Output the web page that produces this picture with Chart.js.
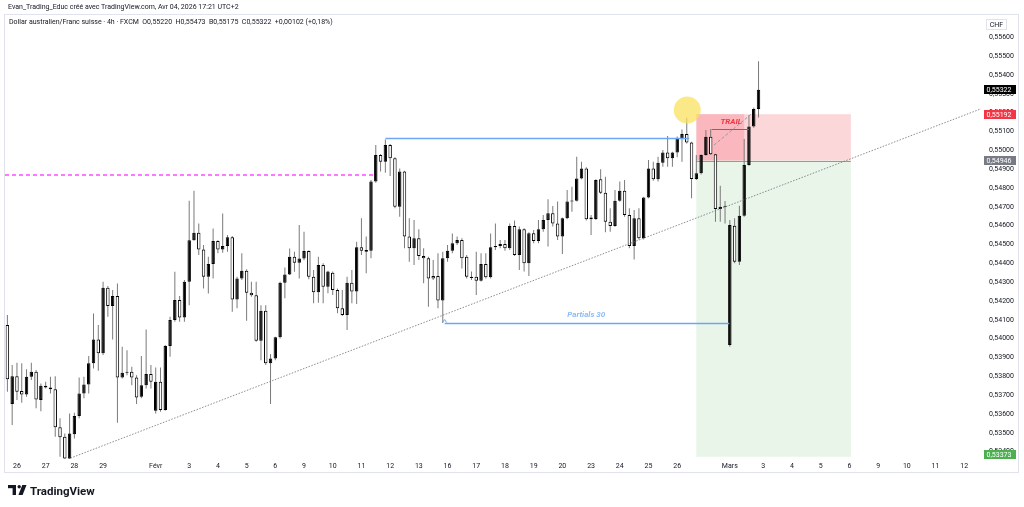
<!DOCTYPE html>
<html>
<head>
<meta charset="utf-8">
<script src="https://cdn.jsdelivr.net/npm/chart.js@4.4.1/dist/chart.umd.min.js"></script>
<style>
  html, body { margin: 0; padding: 0; background: #fff; }
  canvas { display: block; }
</style>
</head>
<body>
<canvas id="chart" width="1024" height="507"></canvas>
<script>
// AUD/CHF 4h candles
const opens = [
  0.54072, 0.53653, 0.53801, 0.53722, 0.53704, 0.53798, 0.53824, 0.53674, 0.53750, 0.53741,
  0.53732, 0.53529, 0.53479, 0.53364, 0.53493, 0.53589, 0.53709, 0.53757, 0.53869, 0.53996,
  0.53922, 0.54270, 0.54173, 0.54226, 0.53794, 0.53819, 0.53824, 0.53794, 0.53692, 0.53753,
  0.53812, 0.53617, 0.53771, 0.53621, 0.53961, 0.54099, 0.54205, 0.54113, 0.54302, 0.54523,
  0.54562, 0.54474, 0.54329, 0.54396, 0.54518, 0.54474, 0.54492, 0.54538, 0.54208, 0.54320,
  0.54361, 0.54244, 0.54231, 0.53989, 0.54148, 0.53869, 0.53895, 0.54007, 0.54297, 0.54341,
  0.54435, 0.54403, 0.54426, 0.54465, 0.54329, 0.54246, 0.54391, 0.54276, 0.54350, 0.54258,
  0.54161, 0.54126, 0.54297, 0.54250, 0.54485, 0.54471, 0.54467, 0.54834, 0.54975, 0.54940,
  0.55028, 0.54958, 0.54701, 0.54887, 0.54542, 0.54480, 0.54533, 0.54439, 0.54427, 0.54333,
  0.54333, 0.54202, 0.54427, 0.54467, 0.54506, 0.54524, 0.54435, 0.54329, 0.54329, 0.54308,
  0.54396, 0.54326, 0.54485, 0.54492, 0.54503, 0.54480, 0.54598, 0.54444, 0.54581, 0.54400,
  0.54560, 0.54519, 0.54581, 0.54630, 0.54666, 0.54612, 0.54542, 0.54639, 0.54728, 0.54733,
  0.54851, 0.54904, 0.54644, 0.54636, 0.54846, 0.54775, 0.54621, 0.54598, 0.54733, 0.54786,
  0.54657, 0.54492, 0.54639, 0.54533, 0.54750, 0.54904, 0.54846, 0.54934, 0.54988, 0.54958,
  0.54988, 0.55064, 0.55087, 0.55041, 0.54848, 0.54878, 0.54975, 0.55072, 0.54979, 0.54688,
  0.54701, 0.53966, 0.54600, 0.54409, 0.54653, 0.54922, 0.55126, 0.55220
];
const highs = [
  0.54125, 0.53860, 0.53872, 0.53869, 0.53837, 0.53872, 0.53833, 0.53762, 0.53771, 0.53798,
  0.53801, 0.53577, 0.53497, 0.53603, 0.53607, 0.53794, 0.53798, 0.53908, 0.54134, 0.54072,
  0.54302, 0.54279, 0.54258, 0.54293, 0.53957, 0.53939, 0.53851, 0.53806, 0.53908, 0.54049,
  0.53860, 0.53847, 0.53847, 0.53966, 0.54116, 0.54355, 0.54226, 0.54311, 0.54732, 0.54785,
  0.54612, 0.54497, 0.54435, 0.54585, 0.54523, 0.54665, 0.54550, 0.54545, 0.54329, 0.54453,
  0.54368, 0.54302, 0.54302, 0.54178, 0.54178, 0.53918, 0.54010, 0.54302, 0.54378, 0.54479,
  0.54461, 0.54603, 0.54568, 0.54470, 0.54365, 0.54435, 0.54400, 0.54361, 0.54356, 0.54267,
  0.54258, 0.54329, 0.54365, 0.54515, 0.54639, 0.54542, 0.54843, 0.55028, 0.54981, 0.55058,
  0.55034, 0.54963, 0.54904, 0.54892, 0.54639, 0.54630, 0.54581, 0.54480, 0.54435, 0.54418,
  0.54453, 0.54462, 0.54497, 0.54559, 0.54542, 0.54533, 0.54444, 0.54356, 0.54462, 0.54453,
  0.54453, 0.54559, 0.54612, 0.54524, 0.54524, 0.54612, 0.54627, 0.54595, 0.54586, 0.54565,
  0.54577, 0.54630, 0.54657, 0.54740, 0.54704, 0.54728, 0.54644, 0.54789, 0.54807, 0.54966,
  0.54940, 0.54910, 0.54657, 0.54846, 0.54899, 0.54860, 0.54692, 0.54789, 0.54834, 0.54842,
  0.54692, 0.54683, 0.54692, 0.54754, 0.54949, 0.54940, 0.54966, 0.55002, 0.55076, 0.54993,
  0.55073, 0.55111, 0.55173, 0.55046, 0.54975, 0.54979, 0.55108, 0.55113, 0.54982, 0.54812,
  0.54731, 0.54630, 0.54639, 0.54706, 0.55060, 0.55187, 0.55228, 0.55473
];
const lows = [
  0.53718, 0.53541, 0.53674, 0.53660, 0.53692, 0.53780, 0.53630, 0.53615, 0.53736, 0.53709,
  0.53479, 0.53373, 0.53355, 0.53355, 0.53470, 0.53577, 0.53683, 0.53709, 0.53842, 0.53830,
  0.53913, 0.54116, 0.53996, 0.53553, 0.53789, 0.53806, 0.53753, 0.53653, 0.53683, 0.53736,
  0.53736, 0.53603, 0.53612, 0.53617, 0.53904, 0.54090, 0.54090, 0.54090, 0.54178, 0.54520,
  0.54444, 0.54267, 0.54240, 0.54320, 0.54453, 0.54456, 0.54461, 0.54143, 0.54161, 0.54311,
  0.54095, 0.54222, 0.53984, 0.53886, 0.53860, 0.53653, 0.53886, 0.54001, 0.54214, 0.54338,
  0.54355, 0.54320, 0.54417, 0.54315, 0.54188, 0.54191, 0.54188, 0.54241, 0.54232, 0.54135,
  0.54120, 0.54046, 0.54188, 0.54184, 0.54444, 0.54347, 0.54427, 0.54828, 0.54887, 0.54881,
  0.54864, 0.54692, 0.54648, 0.54480, 0.54409, 0.54391, 0.54418, 0.54294, 0.54170, 0.54312,
  0.54161, 0.54083, 0.54409, 0.54453, 0.54497, 0.54373, 0.54320, 0.54312, 0.54232, 0.54303,
  0.54320, 0.54320, 0.54471, 0.54480, 0.54467, 0.54471, 0.54439, 0.54365, 0.54356, 0.54333,
  0.54506, 0.54506, 0.54568, 0.54489, 0.54595, 0.54524, 0.54450, 0.54634, 0.54674, 0.54728,
  0.54846, 0.54627, 0.54550, 0.54630, 0.54768, 0.54565, 0.54568, 0.54594, 0.54727, 0.54648,
  0.54480, 0.54421, 0.54527, 0.54527, 0.54745, 0.54839, 0.54834, 0.54913, 0.54913, 0.54913,
  0.54963, 0.54940, 0.55037, 0.54745, 0.54842, 0.54872, 0.54971, 0.54975, 0.54621, 0.54621,
  0.54612, 0.53957, 0.54400, 0.54391, 0.54648, 0.54918, 0.55120, 0.55175
];
const closes = [
  0.53785, 0.53801, 0.53718, 0.53704, 0.53798, 0.53824, 0.53677, 0.53750, 0.53741, 0.53732,
  0.53529, 0.53476, 0.53364, 0.53497, 0.53589, 0.53709, 0.53757, 0.53869, 0.53996, 0.53922,
  0.54270, 0.54173, 0.54226, 0.53794, 0.53819, 0.53824, 0.53794, 0.53688, 0.53753, 0.53812,
  0.53771, 0.53771, 0.53621, 0.53961, 0.54099, 0.54205, 0.54113, 0.54302, 0.54523, 0.54562,
  0.54474, 0.54329, 0.54396, 0.54518, 0.54474, 0.54492, 0.54538, 0.54208, 0.54320, 0.54361,
  0.54244, 0.54231, 0.53989, 0.54148, 0.53869, 0.53895, 0.54007, 0.54297, 0.54341, 0.54435,
  0.54403, 0.54426, 0.54465, 0.54329, 0.54246, 0.54391, 0.54276, 0.54356, 0.54258, 0.54161,
  0.54126, 0.54297, 0.54250, 0.54485, 0.54467, 0.54462, 0.54834, 0.54975, 0.54940, 0.55028,
  0.54958, 0.54701, 0.54887, 0.54542, 0.54480, 0.54533, 0.54439, 0.54427, 0.54320, 0.54320,
  0.54202, 0.54427, 0.54467, 0.54506, 0.54524, 0.54427, 0.54329, 0.54322, 0.54308, 0.54396,
  0.54326, 0.54485, 0.54492, 0.54503, 0.54480, 0.54598, 0.54444, 0.54581, 0.54400, 0.54560,
  0.54519, 0.54581, 0.54630, 0.54666, 0.54612, 0.54542, 0.54639, 0.54728, 0.54733, 0.54851,
  0.54904, 0.54634, 0.54634, 0.54843, 0.54775, 0.54621, 0.54598, 0.54733, 0.54786, 0.54657,
  0.54492, 0.54639, 0.54533, 0.54750, 0.54904, 0.54846, 0.54934, 0.54988, 0.54958, 0.54988,
  0.55064, 0.55087, 0.55041, 0.54848, 0.54878, 0.54975, 0.55072, 0.54979, 0.54688, 0.54701,
  0.54705, 0.54603, 0.54409, 0.54653, 0.54922, 0.55126, 0.55220, 0.55322
];

// time axis: bar slot of each date label
const tickIdx = [2, 8, 14, 20, 31, 38, 44, 50, 56, 62, 68, 74, 80, 86, 92, 98, 104, 110, 116,
  122, 128, 134, 140, 151, 158, 164, 170, 176, 182, 188, 194, 200];
const tickText = ['26', '27', '28', '29', 'Févr', '3', '4', '5', '6', '9', '10', '11', '12', '13',
  '16', '17', '18', '19', '20', '23', '24', '25', '26', 'Mars', '3', '4', '5', '6', '9', '10', '11', '12'];
const slotCount = 204;
const priceTicks = [0.534, 0.535, 0.536, 0.537, 0.538, 0.539, 0.540, 0.541, 0.542, 0.543, 0.544,
  0.545, 0.546, 0.547, 0.548, 0.549, 0.550, 0.551, 0.552, 0.553, 0.554, 0.555, 0.556];

// drawings on the chart (bar slot, price)
const pinkLevel = [76.8, 0.54869];
const rangeHigh = [79, 142.5, 0.55065];
const rangeLow = [91.4, 150.9, 0.54083];
const partialsLabel = [121, 0.54125, 'Partials 30'];
const trendLine = [[12.6, 0.53360], [178, 0.54972]];
const position = { from: 144, to: 176.3, lossEnd: 154, entry: 0.54946, stop: 0.55192, target: 0.53373 };
const trailLine = [147.2, 155, 0.55113];
const trailLabel = [151.3, 0.55152, 'TRAIL'];
const trailPath = [[147.7, 0.55028], [155.4, 0.55191]];
const marker = [142.1, 0.55214];

const FONT = 'Roboto, "Liberation Sans", sans-serif';
const fmt = v => v.toFixed(5).replace('.', ',');

const bodies = opens.map((o, i) => ({ x: i, y: [o, closes[i]] }));
const wicks = opens.map((o, i) => ({ x: i, y: [lows[i], highs[i]] }));
const bodyColors = opens.map((o, i) => closes[i] >= o ? '#000000' : '#ffffff');

const drawings = {
  id: 'drawings',
  beforeDatasetsDraw(chart) {
    const { ctx, chartArea: a, scales: { x, y } } = chart;
    ctx.save();
    ctx.beginPath();
    ctx.rect(a.left, a.top, a.right - a.left, a.bottom - a.top);
    ctx.clip();
    const x0 = x.getPixelForValue(position.from);
    const x1 = x.getPixelForValue(position.to);
    const xl = x.getPixelForValue(position.lossEnd);
    const yS = y.getPixelForValue(position.stop);
    const yE = y.getPixelForValue(position.entry);
    const yT = y.getPixelForValue(position.target);
    ctx.fillStyle = 'rgba(76,175,80,0.13)';
    ctx.fillRect(x0, yE, x1 - x0, yT - yE);
    ctx.fillStyle = 'rgba(242,54,69,0.2)';
    ctx.fillRect(x0, yS, x1 - x0, yE - yS);
    ctx.fillStyle = 'rgba(242,54,69,0.2)';
    ctx.fillRect(x0, yS, xl - x0, yE - yS);
    ctx.strokeStyle = '#9598a1';
    ctx.lineWidth = 1;
    ctx.beginPath();
    ctx.moveTo(x0, Math.round(yE) + 0.5);
    ctx.lineTo(x1, Math.round(yE) + 0.5);
    ctx.stroke();

    // pink dashed level
    const yp = y.getPixelForValue(pinkLevel[1]);
    ctx.strokeStyle = '#ff4dff';
    ctx.lineWidth = 1.6;
    ctx.setLineDash([4, 3]);
    ctx.beginPath();
    ctx.moveTo(a.left, yp);
    ctx.lineTo(x.getPixelForValue(pinkLevel[0]), yp);
    ctx.stroke();
    ctx.restore();
  },
  afterDatasetsDraw(chart) {
    const { ctx, chartArea: a, scales: { x, y } } = chart;
    const px = v => x.getPixelForValue(v);
    const py = v => y.getPixelForValue(v);
    ctx.save();
    ctx.beginPath();
    ctx.rect(a.left, a.top, a.right - a.left, a.bottom - a.top);
    ctx.clip();

    // dotted trend line, extended to the right edge
    const [p0, p1] = trendLine;
    const tx0 = px(p0[0]), ty0 = py(p0[1]), tx1 = px(p1[0]), ty1 = py(p1[1]);
    const slope = (ty1 - ty0) / (tx1 - tx0);
    ctx.strokeStyle = '#6b6f7a';
    ctx.lineWidth = 0.8;
    ctx.setLineDash([1.5, 1.5]);
    ctx.beginPath();
    ctx.moveTo(tx0, ty0);
    ctx.lineTo(a.right, ty0 + slope * (a.right - tx0));
    ctx.stroke();

    // blue range lines
    ctx.setLineDash([]);
    ctx.strokeStyle = '#6ea6f4';
    ctx.lineWidth = 1.3;
    [rangeHigh, rangeLow].forEach(r => {
      const yy = Math.round(py(r[2])) + 0.5;
      ctx.beginPath();
      ctx.moveTo(px(r[0]), yy);
      ctx.lineTo(px(r[1]), yy);
      ctx.stroke();
    });
    // small arrow at the start of the low range
    const ax = px(rangeLow[0]), ay = Math.round(py(rangeLow[2])) + 0.5;
    ctx.lineWidth = 1;
    ctx.beginPath();
    ctx.moveTo(ax - 2, ay - 1);
    ctx.lineTo(ax, ay - 4);
    ctx.lineTo(ax + 2, ay - 1);
    ctx.stroke();
    ctx.fillStyle = '#8dbbf7';
    ctx.font = 'italic bold 8px ' + FONT;
    ctx.textAlign = 'center';
    ctx.textBaseline = 'middle';
    ctx.fillText(partialsLabel[2], px(partialsLabel[0]), py(partialsLabel[1]));

    // trail line + dashed path
    ctx.strokeStyle = '#f23645';
    ctx.lineWidth = 1;
    ctx.beginPath();
    ctx.moveTo(px(trailLine[0]), Math.round(py(trailLine[2])) + 0.5);
    ctx.lineTo(px(trailLine[1]), Math.round(py(trailLine[2])) + 0.5);
    ctx.stroke();
    ctx.fillStyle = '#f23645';
    ctx.font = 'italic bold 8px ' + FONT;
    ctx.fillText(trailLabel[2], px(trailLabel[0]), py(trailLabel[1]));
    ctx.strokeStyle = '#9598a1';
    ctx.setLineDash([3, 2]);
    ctx.beginPath();
    ctx.moveTo(px(trailPath[0][0]), py(trailPath[0][1]));
    ctx.lineTo(px(trailPath[1][0]), py(trailPath[1][1]));
    ctx.stroke();
    ctx.setLineDash([]);

    // yellow marker
    ctx.fillStyle = 'rgba(249,224,90,0.72)';
    ctx.beginPath();
    ctx.arc(px(marker[0]), py(marker[1]), 13.5, 0, Math.PI * 2);
    ctx.fill();
    ctx.restore();
  },
  afterDraw(chart) {
    const { ctx, chartArea: a, scales: { y } } = chart;
    ctx.save();
    // frame
    ctx.strokeStyle = '#e0e3eb';
    ctx.lineWidth = 1;
    ctx.strokeRect(4.5, 14.5, 1014, 458);

    // header
    ctx.fillStyle = '#131722';
    ctx.textAlign = 'left';
    ctx.textBaseline = 'middle';
    ctx.font = '7px ' + FONT;
    ctx.fillText('Evan_Trading_Educ créé avec TradingView.com, Avr 04, 2026 17:21 UTC+2', 8, 7);
    const n = closes.length - 1;
    const chg = closes[n] - closes[n - 1];
    const pct = chg / closes[n - 1] * 100;
    const legend = 'Dollar australien/Franc suisse · 4h · FXCM  O' + fmt(opens[n]) + '  H' + fmt(highs[n]) +
      '  B' + fmt(lows[n]) + '  C' + fmt(closes[n]) + '  +' + fmt(chg) + ' (+' + pct.toFixed(2).replace('.', ',') + '%)';
    ctx.fillText(legend, 9, 22);

    // currency box
    ctx.strokeStyle = '#e0e3eb';
    ctx.fillStyle = '#fff';
    ctx.fillRect(986.5, 19.5, 20, 10);
    ctx.strokeRect(986.5, 19.5, 20, 10);
    ctx.fillStyle = '#131722';
    ctx.textAlign = 'center';
    ctx.fillText('CHF', 996.5, 24.8);

    // price tags
    const tags = [[closes[n], '#000000'], [position.stop, '#f23645'], [position.entry, '#787b86'], [position.target, '#4caf50']];
    ctx.textAlign = 'left';
    tags.forEach(([v, c]) => {
      let cy = y.getPixelForValue(v);
      cy = Math.min(cy, a.bottom - 5);
      ctx.fillStyle = c;
      ctx.fillRect(984, Math.round(cy - 4.5), 32, 9);
      ctx.fillStyle = '#ffffff';
      ctx.fillText(fmt(v), 986.5, Math.round(cy - 4.5) + 4.8);
    });

    // TradingView logo
    ctx.fillStyle = '#131722';
    ctx.fillRect(8, 485, 8, 3.2);
    ctx.fillRect(12.6, 485, 3.4, 10);
    ctx.beginPath();
    ctx.arc(19.2, 486.7, 1.7, 0, Math.PI * 2);
    ctx.fill();
    ctx.beginPath();
    ctx.moveTo(22.3, 485);
    ctx.lineTo(26.5, 485);
    ctx.lineTo(22.6, 495);
    ctx.lineTo(18.4, 495);
    ctx.closePath();
    ctx.fill();
    ctx.font = 'bold 11.5px ' + FONT;
    ctx.textBaseline = 'alphabetic';
    ctx.fillText('TradingView', 30, 494.5);
    ctx.restore();
  }
};

new Chart(document.getElementById('chart'), {
  type: 'bar',
  data: {
    datasets: [
      {
        data: bodies,
        backgroundColor: bodyColors,
        borderColor: '#000000',
        borderWidth: 1,
        borderSkipped: false,
        barPercentage: 0.72,
        categoryPercentage: 1,
        grouped: false,
        minBarLength: 1,
        order: 1
      },
      {
        data: wicks,
        backgroundColor: '#7a7a7a',
        barThickness: 1,
        inflateAmount: 0,
        grouped: false,
        order: 2
      }
    ]
  },
  options: {
    responsive: false,
    animation: false,
    layout: { padding: { left: 5, top: 14, right: 0, bottom: 34 } },
    plugins: { legend: { display: false }, tooltip: { enabled: false } },
    scales: {
      x: {
        type: 'linear',
        offset: false,
        min: -0.5,
        max: slotCount - 0.5,
        grid: { display: false, drawTicks: false },
        border: { display: false },
        afterBuildTicks: s => { s.ticks = tickIdx.map(v => ({ value: v })); },
        afterFit: s => { s.height = 14; },
        ticks: {
          autoSkip: false,
          maxRotation: 0,
          padding: 3,
          color: '#131722',
          font: { family: FONT, size: 7 },
          callback: v => tickText[tickIdx.indexOf(v)]
        }
      },
      y: {
        position: 'right',
        min: 0.53361,
        max: 0.55724,
        grid: { display: false, drawTicks: false },
        border: { display: false },
        afterBuildTicks: s => { s.ticks = priceTicks.map(v => ({ value: v })); },
        afterFit: s => { s.width = 43; },
        ticks: {
          padding: 8,
          color: '#131722',
          font: { family: FONT, size: 7 },
          callback: v => fmt(v)
        }
      }
    }
  },
  plugins: [drawings]
});
</script>
</body>
</html>
